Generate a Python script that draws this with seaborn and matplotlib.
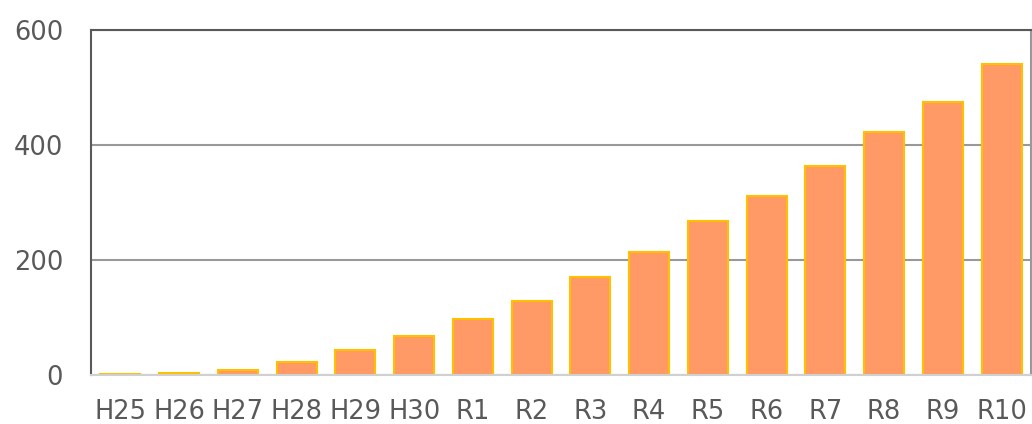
import matplotlib
matplotlib.use("Agg")
import matplotlib.pyplot as plt
import seaborn as sns

# data
years = ["H25", "H26", "H27", "H28", "H29", "H30",
         "R1", "R2", "R3", "R4", "R5", "R6", "R7", "R8", "R9", "R10"]
values = [1, 4, 9, 22, 44, 67, 97, 128, 170, 214, 268, 312, 363, 423, 475, 541]
y_ticks = [0, 200, 400, 600]

sns.set_style("white")
plt.rcParams["font.family"] = ["DejaVu Sans"]

fig = plt.figure(figsize=(10.32, 4.24), dpi=100)
ax = fig.add_axes([0.0882, 0.1156, 0.9108, 0.8137])

sns.barplot(
    x=years,
    y=values,
    color="#FF9966",
    saturation=1,
    width=0.68,
    edgecolor="#FFC000",
    linewidth=1.5,
    ax=ax,
    zorder=3
)

ax.set_ylim(0, 600)
ax.set_xlim(-0.5, len(years) - 0.5)
ax.set_yticks(y_ticks)
ax.yaxis.grid(True, color="#999999", linewidth=1.5, zorder=0)
ax.set_axisbelow(True)

for side, col in [("left", "#595959"), ("top", "#595959"),
                  ("right", "#999999"), ("bottom", "#D0D0D0")]:
    ax.spines[side].set_visible(True)
    ax.spines[side].set_color(col)
    ax.spines[side].set_linewidth(1.5)
ax.spines["bottom"].set_zorder(4)

ax.tick_params(axis="both", length=0, labelsize=18.5, labelcolor="#595959")
ax.tick_params(axis="y", pad=20)
ax.tick_params(axis="x", pad=17)
ax.set_xlabel("")
ax.set_ylabel("")

fig.savefig("out.png", dpi=100)
